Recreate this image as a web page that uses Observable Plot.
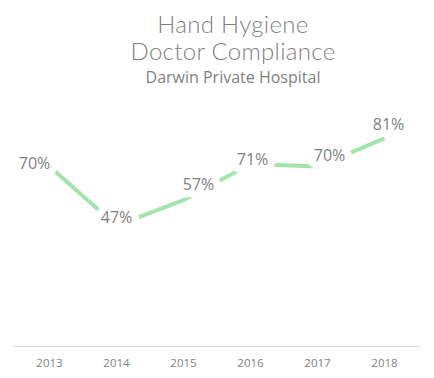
<!DOCTYPE html>
<html><head><meta charset="utf-8">
<script src="https://cdn.jsdelivr.net/npm/d3@7"></script>
<script src="https://cdn.jsdelivr.net/npm/@observablehq/plot@0.6"></script>
<style>
body{margin:0;background:#fff;}
#wrap{position:relative;width:434px;height:378px;overflow:hidden;background:#fff;}
.t{position:absolute;left:0;width:466px;text-align:center;color:#7f7f7f;white-space:nowrap;}
.t1{font-family:Lato,"DejaVu Sans",sans-serif;font-weight:300;font-size:24px;line-height:24px;letter-spacing:0.3px;}
.t2{font-family:"Open Sans",sans-serif;font-size:16px;line-height:16px;}
#chart{position:absolute;left:0;top:0;}
</style></head>
<body>
<div id="wrap">
  <div class="t t1" style="top:12px">Hand Hygiene</div>
  <div class="t t1" style="top:39px">Doctor Compliance</div>
  <div class="t t2" style="top:69px">Darwin Private Hospital</div>
  <div id="chart"></div>
</div>
<script>
const years = ["2013", "2014", "2015", "2016", "2017", "2018"];
const compliance = [70, 47, 57, 71, 70, 81];
const labelDx = [-15, 0, 15, 2, 12, 4];
const labelDy = [-3, -8, -15, -4, -11, -13];

const data = years.map((year, i) => ({year, value: compliance[i], dx: labelDx[i], dy: labelDy[i]}));

const chart = Plot.plot({
  width: 434,
  height: 378,
  marginLeft: 13,
  marginRight: 14,
  marginTop: 89,
  marginBottom: 32,
  style: {background: "transparent", overflow: "visible"},
  x: {type: "point", domain: years, padding: 0.5, label: null},
  y: {domain: [0, 100], axis: null},
  marks: [
    Plot.ruleY([0], {stroke: "#d9d9d9", strokeWidth: 1}),
    Plot.axisX({tickSize: 0, tickPadding: 12, fontSize: 11.5, fill: "#7f7f7f", fontFamily: "Open Sans, sans-serif", label: null}),
    Plot.line(data, {x: "year", y: "value", stroke: "#a3e4ad", strokeWidth: 4, strokeLinecap: "butt"}),
    ...data.map(d => Plot.text([d], {
      x: "year", y: "value", text: v => v.value + "%",
      dx: d.dx, dy: d.dy,
      fill: "#7f7f7f", fontSize: 16, fontFamily: "Open Sans, sans-serif",
      stroke: "white", strokeWidth: 15, strokeLinejoin: "round"
    }))
  ]
});
document.getElementById("chart").appendChild(chart);
</script>
</body></html>
